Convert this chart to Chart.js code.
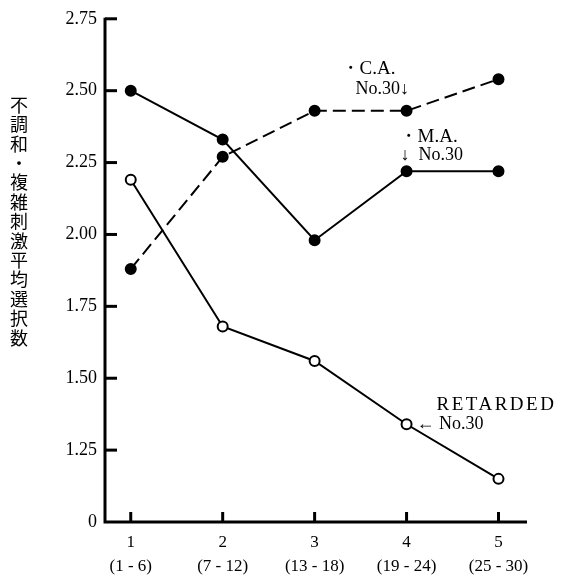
<!DOCTYPE html>
<html>
<head>
<meta charset="utf-8">
<script src="https://cdn.jsdelivr.net/npm/chart.js@4"></script>
<style>
  html, body { margin: 0; padding: 0; background: #fff; }
  #wrap { width: 561px; height: 578px; position: relative; }
</style>
</head>
<body>
<div id="wrap"><canvas id="chart"></canvas></div>
<script>
// ------------------
// data
// ------------------
const categories = ["1", "2", "3", "4", "5"];
const ranges = ["(1 - 6)", "(7 - 12)", "(13 - 18)", "(19 - 24)", "(25 - 30)"];
const maValues = [2.50, 2.33, 1.98, 2.22, 2.22];
const caValues = [1.88, 2.27, 2.43, 2.43, 2.54];
const retardedValues = [2.19, 1.68, 1.56, 1.34, 1.15];
const yTicks = [1.00, 1.25, 1.50, 1.75, 2.00, 2.25, 2.50, 2.75];
const yTickLabels = ["0", "1.25", "1.50", "1.75", "2.00", "2.25", "2.50", "2.75"];
const yTitle = "不調和・複雑刺激平均選択数";

const serif = "'Liberation Serif', 'DejaVu Serif', serif";

function pts(values) {
  return values.map((v, i) => ({ x: i + 1, y: v }));
}

// ------------------
// plugins
// ------------------
const axisDecor = {
  id: "axisDecor",
  afterDraw(chart) {
    const ctx = chart.ctx;
    const xs = chart.scales.x, ys = chart.scales.y;
    const area = chart.chartArea;
    ctx.save();
    ctx.strokeStyle = "#000";
    // axes
    ctx.lineWidth = 3;
    ctx.beginPath();
    ctx.moveTo(area.left, ys.getPixelForValue(2.75) - 1);
    ctx.lineTo(area.left, area.bottom);
    ctx.lineTo(area.right, area.bottom);
    ctx.stroke();
    // inward ticks
    yTicks.slice(1).forEach(v => {
      const y = ys.getPixelForValue(v);
      ctx.beginPath();
      ctx.moveTo(area.left, y);
      ctx.lineTo(area.left + 12, y);
      ctx.stroke();
    });
    categories.forEach((c, i) => {
      const x = xs.getPixelForValue(i + 1);
      ctx.beginPath();
      ctx.moveTo(x, area.bottom);
      ctx.lineTo(x, area.bottom - 10);
      ctx.stroke();
    });

    // vertical title
    ctx.fillStyle = "#000";
    ctx.font = "18px 'Noto Sans CJK JP'";
    ctx.textAlign = "center";
    ctx.textBaseline = "middle";
    [...yTitle].forEach((ch, i) => {
      ctx.fillText(ch, 19, 105 + i * 19.4);
    });

    // annotations
    const px = (x, y) => [xs.getPixelForValue(x), ys.getPixelForValue(y)];
    ctx.textAlign = "left";
    ctx.font = "19px " + serif;
    let [cx, cy] = px(4, caValues[3]);
    ctx.fillText("・C.A.", cx - 66, cy - 42);
    ctx.font = "18px " + serif;
    ctx.fillText("No.30↓", cx - 51, cy - 22);

    let [mx, my] = px(4, maValues[3]);
    ctx.font = "19px " + serif;
    ctx.fillText("・M.A.", mx - 8, my - 34);
    ctx.font = "18px " + serif;
    ctx.fillText("↓  No.30", mx - 6, my - 16);

    let [rx, ry] = px(4, retardedValues[3]);
    ctx.font = "19px " + serif;
    ctx.letterSpacing = "2.5px";
    ctx.fillText("RETARDED", rx + 30, ry - 19);
    ctx.letterSpacing = "0px";
    ctx.font = "18px " + serif;
    ctx.fillText("← No.30", rx + 10, ry);
    ctx.restore();
  }
};

// ------------------
// chart setup
// ------------------
const lineStyle = { borderColor: "#000", borderWidth: 2, pointRadius: 5, pointBorderWidth: 2, pointBorderColor: "#000", tension: 0 };

new Chart(document.getElementById("chart"), {
  type: "line",
  data: {
    datasets: [
      Object.assign({ label: "M.A.", data: pts(maValues), pointBackgroundColor: "#000" }, lineStyle),
      Object.assign({ label: "C.A.", data: pts(caValues), pointBackgroundColor: "#000", borderDash: [13, 6] }, lineStyle),
      Object.assign({ label: "RETARDED", data: pts(retardedValues), pointBackgroundColor: "#fff" }, lineStyle)
    ]
  },
  options: {
    responsive: true,
    maintainAspectRatio: false,
    animation: false,
    layout: { padding: { top: 3, right: 34, left: 0, bottom: 0 } },
    plugins: { legend: { display: false }, tooltip: { enabled: false } },
    scales: {
      x: {
        type: "linear",
        min: 0.72,
        max: 5.31,
        afterBuildTicks: s => { s.ticks = categories.map((c, i) => ({ value: i + 1 })); },
        afterFit: s => { s.height = 56; },
        grid: { display: false, drawTicks: false },
        border: { display: false },
        ticks: {
          color: "#000",
          padding: 9,
          font: { family: serif, size: 17, lineHeight: 1.4 },
          callback: (v, i) => [categories[i], ranges[i]]
        }
      },
      y: {
        min: 1,
        max: 2.75,
        afterBuildTicks: s => { s.ticks = yTicks.map(v => ({ value: v })); },
        afterFit: s => { s.width = 105; },
        grid: { display: false, drawTicks: false },
        border: { display: false },
        ticks: {
          color: "#000",
          padding: 8,
          font: { family: serif, size: 18 },
          callback: (v, i) => yTickLabels[i]
        }
      }
    }
  },
  plugins: [axisDecor]
});
</script>
</body>
</html>
